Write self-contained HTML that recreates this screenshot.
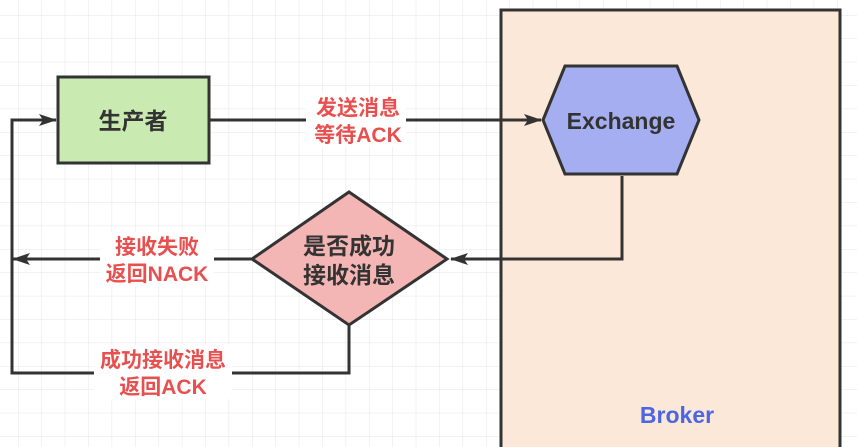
<!DOCTYPE html>
<html><head><meta charset="utf-8"><style>
html,body{margin:0;padding:0;background:#fff;}
svg{display:block;}
text{font-family:"Liberation Sans","Noto Sans CJK SC",sans-serif;font-weight:bold;}
</style></head><body>
<svg width="857" height="447" viewBox="0 0 857 447" xmlns="http://www.w3.org/2000/svg">
<defs>
<pattern id="g" x="18" y="15" width="23.4" height="23.4" patternUnits="userSpaceOnUse">
<path d="M0 0H23.4M0 0V23.4" stroke="#e6e6e6" stroke-width="1" fill="none"/>
</pattern>
<marker id="a" markerWidth="18" markerHeight="14" refX="17" refY="7" orient="auto" markerUnits="userSpaceOnUse">
<path d="M0 1L18 7L0 13L4 7Z" fill="#333"/>
</marker>
</defs>
<rect width="857" height="447" fill="url(#g)"/>
<rect x="501" y="10" width="339" height="450" fill="#fbe8d8" stroke="#333" stroke-width="3"/>
<text x="677" y="423" font-size="23" fill="#4a66e0" text-anchor="middle">Broker</text>
<rect x="58" y="77" width="151" height="86" fill="#c9eab0" stroke="#333" stroke-width="3"/>
<text x="133" y="129" font-size="23" fill="#333" text-anchor="middle">生产者</text>
<polygon points="543,120 565,66 677,66 699,120 677,174 565,174" fill="#a4aef0" stroke="#333" stroke-width="3"/>
<text x="621" y="129" font-size="23" fill="#333" text-anchor="middle">Exchange</text>
<polygon points="252,259 349,192 447,259 349,325" fill="#f4b6b4" stroke="#333" stroke-width="3"/>
<text x="349" y="254" font-size="23" fill="#333" text-anchor="middle">是否成功</text>
<text x="349" y="283" font-size="23" fill="#333" text-anchor="middle">接收消息</text>
<g stroke="#333" stroke-width="3" fill="none">
<path d="M209 120H541" marker-end="url(#a)"/>
<path d="M622 176V259H451" marker-end="url(#a)"/>
<path d="M252 259H13" marker-end="url(#a)"/>
<path d="M349 325V373H12V120H56" marker-end="url(#a)"/>
</g>
<rect x="306" y="93" width="100" height="54" fill="#fff"/>
<text x="358" y="115" font-size="21" fill="#e85050" text-anchor="middle">发送消息</text>
<text x="358" y="142" font-size="21" fill="#e85050" text-anchor="middle">等待ACK</text>
<rect x="100" y="232" width="114" height="54" fill="#fff"/>
<text x="157" y="254" font-size="21" fill="#e85050" text-anchor="middle">接收失败</text>
<text x="157" y="281" font-size="21" fill="#e85050" text-anchor="middle">返回NACK</text>
<rect x="94" y="345" width="138" height="54" fill="#fff"/>
<text x="163" y="367" font-size="21" fill="#e85050" text-anchor="middle">成功接收消息</text>
<text x="163" y="394" font-size="21" fill="#e85050" text-anchor="middle">返回ACK</text>
</svg>
</body></html>
